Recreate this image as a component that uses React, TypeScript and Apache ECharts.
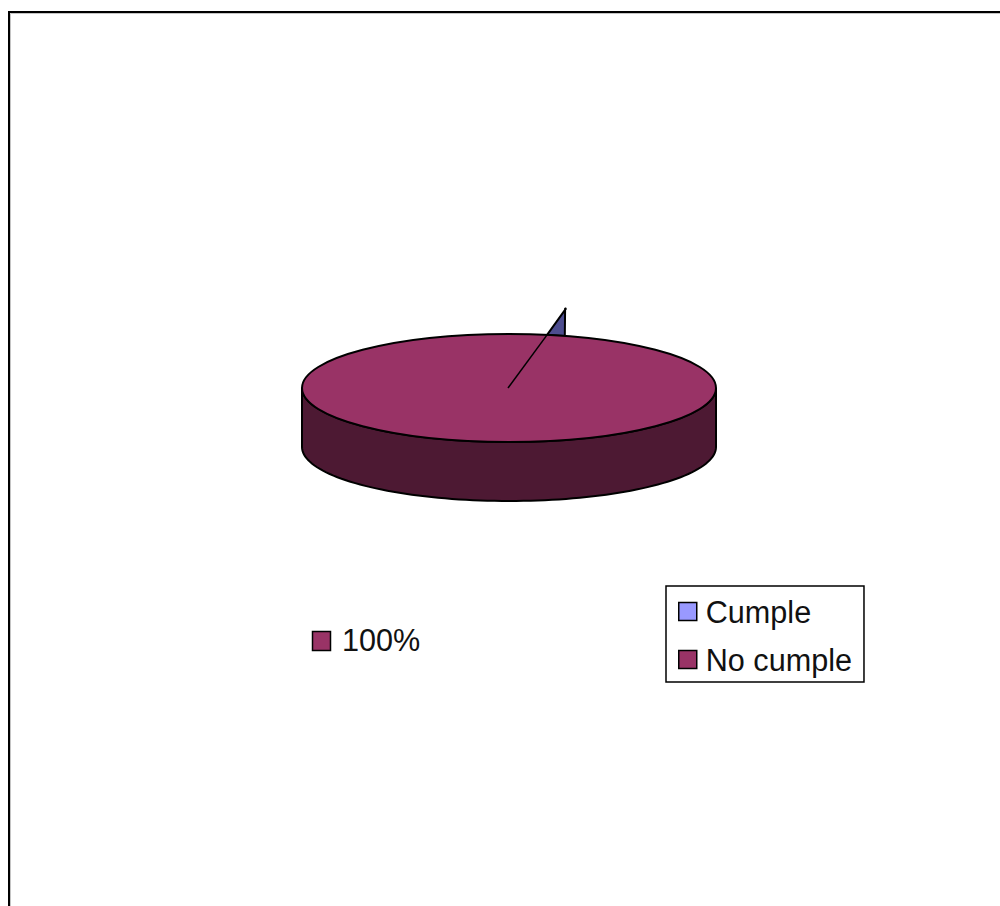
import React, { useEffect, useRef } from "react";
import * as echarts from "echarts";

const sliceNames = ["Cumple", "No cumple"];
const sliceValues = [1.4, 98.6];
const legendColors = ["#9999ff", "#993366"];
const dataLabel = "100%";

const FONT = '"Liberation Sans", Arial, sans-serif';
const cx = 509;
const cy = 388;
const rx = 207;
const ry = 54;
const depth = 59;
const firstSliceAngle = 10.6;
const explode = 1.5;
const total = sliceValues[0] + sliceValues[1];

const pt = (deg: number, scale = 1, dy = 0): [number, number] => {
  const r = (deg * Math.PI) / 180;
  return [cx + rx * scale * Math.sin(r), cy + dy - ry * scale * Math.cos(r)];
};

const renderCumple = (_: any, api: any) => {
  const sweep = (api.value(0) / total) * 360;
  const tip = pt(firstSliceAngle, explode);
  const end = pt(firstSliceAngle + sweep);
  return {
    type: "polygon",
    shape: { points: [pt(firstSliceAngle), tip, [tip[0] - 1, tip[1]], end] },
    style: { fill: "#4d4d8f", stroke: "#000", lineWidth: 2, lineJoin: "bevel" },
  };
};

const renderNoCumple = () => {
  const band: [number, number][] = [];
  for (let a = 90; a <= 270; a += 2) band.push(pt(a));
  for (let a = 270; a >= 90; a -= 2) band.push(pt(a, 1, depth));
  return {
    type: "group",
    children: [
      {
        type: "polygon",
        shape: { points: band },
        style: { fill: "#4d1933", stroke: "#000", lineWidth: 2 },
      },
      {
        type: "ellipse",
        shape: { cx, cy, rx, ry },
        style: { fill: "#993366", stroke: "#000", lineWidth: 2 },
      },
      {
        type: "line",
        shape: {
          x1: cx - 1,
          y1: cy,
          x2: pt(firstSliceAngle)[0],
          y2: pt(firstSliceAngle)[1],
        },
        style: { stroke: "#000", lineWidth: 1.5 },
      },
      {
        type: "rect",
        shape: { x: 312.5, y: 631.5, width: 18, height: 19 },
        style: { fill: "#993366", stroke: "#000", lineWidth: 1.5 },
      },
      {
        type: "text",
        style: {
          x: 342,
          y: 640,
          text: dataLabel,
          fill: "#111",
          font: `30.6px ${FONT}`,
          textVerticalAlign: "middle",
        },
      },
    ],
  };
};

export default function App() {
  const ref = useRef<HTMLDivElement>(null);
  useEffect(() => {
    const chart = echarts.init(ref.current!, null, { renderer: "svg" });
    chart.setOption({
      animation: false,
      backgroundColor: "#ffffff",
      legend: {
        show: true,
        orient: "vertical",
        left: 666,
        top: 586,
        padding: [10, 12, 7, 12],
        itemGap: 17,
        itemWidth: 18,
        itemHeight: 18,
        selectedMode: false,
        borderColor: "#000",
        borderWidth: 1.5,
        backgroundColor: "#fff",
        icon: "rect",
        itemStyle: { borderColor: "#000", borderWidth: 1.5 },
        textStyle: { fontFamily: FONT, fontSize: 30.6, color: "#111", padding: [0, 0, 0, 4] },
        data: sliceNames,
      },
      graphic: [
        {
          type: "polyline",
          silent: true,
          shape: { points: [[9, 906], [9, 12], [1000, 12]] },
          style: { stroke: "#000", lineWidth: 2, fill: "none" },
        },
        {
          type: "polyline",
          silent: true,
          shape: { points: [[10.5, 906], [10.5, 13.5], [1000, 13.5]] },
          style: { stroke: "#c4c4c4", lineWidth: 1, fill: "none" },
        },
      ],
      series: [
        {
          type: "custom",
          name: sliceNames[0],
          coordinateSystem: "none",
          renderItem: renderCumple,
          itemStyle: { color: legendColors[0] },
          data: [[sliceValues[0]]],
          z: 2,
        },
        {
          type: "custom",
          name: sliceNames[1],
          coordinateSystem: "none",
          renderItem: renderNoCumple,
          itemStyle: { color: legendColors[1] },
          data: [[sliceValues[1]]],
          z: 3,
        },
      ],
    });
    return () => chart.dispose();
  }, []);
  return (
    <div
      ref={ref}
      style={{ position: "fixed", left: 0, top: 0, width: 1000, height: 906, background: "#fff" }}
    />
  );
}
